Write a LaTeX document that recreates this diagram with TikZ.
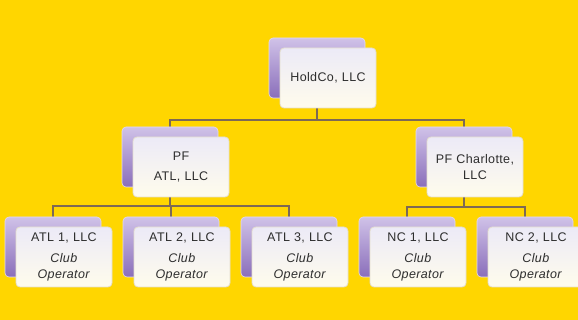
\documentclass[tikz,border=0pt]{standalone}
\usepackage{fontspec}
\setmainfont{Liberation Sans}[LetterSpace=3]
\usetikzlibrary{backgrounds}

\definecolor{bgyellow}{RGB}{255,214,0}
\definecolor{linkbrown}{RGB}{125,105,85}
\definecolor{cardtop}{RGB}{208,194,232}
\definecolor{cardbottom}{RGB}{138,110,186}
\definecolor{facetop}{RGB}{236,234,247}
\definecolor{facebottom}{RGB}{255,252,236}
\definecolor{faceedge}{RGB}{228,222,205}
\definecolor{textgray}{RGB}{45,45,45}

\tikzset{
  backcard/.style={minimum width=96pt, minimum height=60pt, inner sep=0pt,
    rounded corners=4pt, top color=cardtop, bottom color=cardbottom,
    draw=cardtop!60!white, line width=0.6pt},
  frontcard/.style={minimum width=96pt, minimum height=60pt, inner sep=2pt,
    text width=90pt, align=center, rounded corners=4pt,
    top color=facetop, bottom color=facebottom, draw=faceedge, line width=0.8pt,
    text=textgray, font=\fontsize{12.5}{16}\selectfont},
  link/.style={draw=linkbrown, line width=1.4pt},
}

\begin{document}
\begin{tikzpicture}[x=1pt,y=-1pt]
  \useasboundingbox (0,0) rectangle (578,320);

  % back cards
  \node[backcard] (holdB) at (317,68) {};
  \node[backcard] (pfatlB) at (170,157) {};
  \node[backcard] (pfcltB) at (464,157) {};
  \foreach \name/\x in {atlaB/53, atlbB/171, atlcB/289, ncaB/407, ncbB/525}
    \node[backcard] (\name) at (\x,247) {};

  % front cards
  \node[frontcard] (hold) at ([shift={(11,10)}]holdB) {HoldCo, LLC};
  \node[frontcard] (pfatl) at ([shift={(11,10)}]pfatlB) {PF\\[4pt]ATL, LLC};
  \node[frontcard] (pfclt) at ([shift={(11,10)}]pfcltB) {PF Charlotte,\\LLC};
  \node[frontcard] (atla) at ([shift={(11,10)}]atlaB) {ATL 1, LLC\\[5pt]\textit{Club}\\\textit{Operator}};
  \node[frontcard] (atlb) at ([shift={(11,10)}]atlbB) {ATL 2, LLC\\[5pt]\textit{Club}\\\textit{Operator}};
  \node[frontcard] (atlc) at ([shift={(11,10)}]atlcB) {ATL 3, LLC\\[5pt]\textit{Club}\\\textit{Operator}};
  \node[frontcard] (nca) at ([shift={(11,10)}]ncaB) {NC 1, LLC\\[5pt]\textit{Club}\\\textit{Operator}};
  \node[frontcard] (ncb) at ([shift={(11,10)}]ncbB) {NC 2, LLC\\[5pt]\textit{Club}\\\textit{Operator}};

  % yellow ground and connectors behind the cards
  \begin{pgfonlayer}{background}
    \fill[bgyellow] (0,0) rectangle (578,320);
    \draw[link] (holdB.center) -- ++(0,52) coordinate (busA) -| (pfatlB.center);
    \draw[link] (busA) -| (pfcltB.center);
    \draw[link] (pfatlB.center) -- ++(0,49) coordinate (busB) -| (atlaB.center);
    \draw[link] (busB) -| (atlbB.center);
    \draw[link] (busB) -| (atlcB.center);
    \draw[link] (pfcltB.center) -- ++(0,50) coordinate (busC) -| (ncaB.center);
    \draw[link] (busC) -| (ncbB.center);
  \end{pgfonlayer}
\end{tikzpicture}
\end{document}
